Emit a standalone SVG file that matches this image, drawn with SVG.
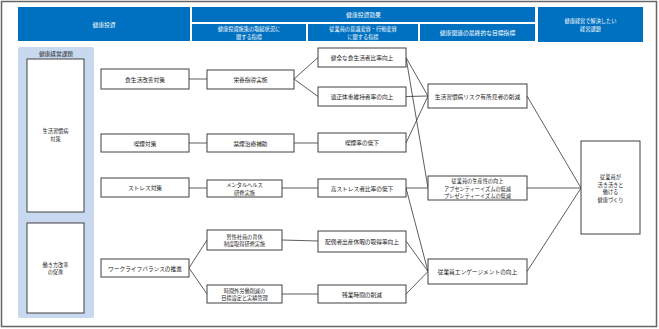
<svg xmlns="http://www.w3.org/2000/svg" width="659" height="329" viewBox="0 0 659 329">
<style>
text{font-family:"Noto Sans CJK JP","Noto Sans",sans-serif;font-size:5.7px;fill:#222;text-anchor:middle;dominant-baseline:central}
text.s{font-size:5.2px}
.h rect{fill:#0070C0}
.h text{fill:#fff;font-size:5.8px}
.h text.s{font-size:5.2px}
.n rect{fill:#fff;stroke:#404040;stroke-width:1}
#connectors line{stroke:#333;stroke-width:0.8}
</style>
<rect x="1.5" y="1.5" width="655" height="325" fill="#fff" stroke="#666" stroke-width="1.5"/>
<g class="h" id="hdr-invest"><rect x="18" y="7" width="172" height="34"/><text x="104" y="24">健康投資</text></g>
<g class="h" id="hdr-effect"><rect x="192" y="7" width="343" height="15"/><text x="363.5" y="14.5">健康投資効果</text></g>
<g class="h" id="hdr-c2"><rect x="192" y="24" width="114" height="17"/><text class="s" x="249" y="28.8">健康投資施策の取組状況に</text><text class="s" x="249" y="36.3">関する指標</text></g>
<g class="h" id="hdr-c3"><rect x="308" y="24" width="110" height="17"/><text class="s" x="363" y="28.8">従業員の意識変容・行動変容</text><text class="s" x="363" y="36.3">に関する指標</text></g>
<g class="h" id="hdr-c4"><rect x="420" y="24" width="115" height="17"/><text x="477.5" y="32.5">健康関連の最終的な目標指標</text></g>
<g class="h" id="hdr-c5"><rect x="538" y="7" width="105" height="35"/><text class="s" x="590.5" y="20.7">健康経営で解決したい</text><text class="s" x="590.5" y="28.2">経営課題</text></g>

<g id="panel"><rect x="18" y="47" width="76" height="271" rx="2" fill="#C8D8EE"/><text x="56" y="53">健康経営課題</text></g>
<g class="n" id="issue1"><rect x="27" y="59" width="57" height="153"/><text class="s" x="55.5" y="130.8">生活習慣病</text><text class="s" x="55.5" y="138.3">対策</text></g>
<g class="n" id="issue2"><rect x="27" y="223" width="57" height="90"/><text class="s" x="55.5" y="264.3">働き方改革</text><text class="s" x="55.5" y="271.8">の促進</text></g>

<g id="connectors">
<line x1="189" y1="79" x2="207" y2="79"/>
<line x1="294" y1="79" x2="318" y2="57.5"/>
<line x1="294" y1="79" x2="318" y2="96.5"/>
<line x1="189" y1="143" x2="207" y2="143"/>
<line x1="294" y1="143" x2="318" y2="143"/>
<line x1="189" y1="188" x2="207" y2="188"/>
<line x1="282" y1="188" x2="318" y2="188"/>
<line x1="189" y1="268" x2="207" y2="240"/>
<line x1="189" y1="268" x2="207" y2="294"/>
<line x1="282" y1="240" x2="318" y2="241"/>
<line x1="282" y1="294" x2="318" y2="294"/>
<line x1="406" y1="57.5" x2="428" y2="96"/>
<line x1="406" y1="57.5" x2="428" y2="188"/>
<line x1="406" y1="96.5" x2="428" y2="96"/>
<line x1="406" y1="143" x2="428" y2="96"/>
<line x1="406" y1="188" x2="428" y2="188"/>
<line x1="406" y1="188" x2="428" y2="271.5"/>
<line x1="406" y1="241" x2="428" y2="271.5"/>
<line x1="406" y1="294" x2="428" y2="271.5"/>
<line x1="527" y1="96" x2="581" y2="188"/>
<line x1="527" y1="188" x2="581" y2="188"/>
<line x1="527" y1="271.5" x2="581" y2="188"/>
</g>

<g class="n" id="m1"><rect x="101" y="69" width="88" height="20"/><text x="145" y="79">食生活改善対策</text></g>
<g class="n" id="m2"><rect x="101" y="134" width="88" height="18"/><text x="145" y="143">喫煙対策</text></g>
<g class="n" id="m3"><rect x="101" y="178" width="88" height="19"/><text x="145" y="187.5">ストレス対策</text></g>
<g class="n" id="m4"><rect x="101" y="259" width="88" height="18"/><text x="145" y="268">ワークライフバランスの推進</text></g>

<g class="n" id="a1"><rect x="207" y="70" width="87" height="19"/><text x="250.5" y="79.5">栄養指導実施</text></g>
<g class="n" id="a2"><rect x="207" y="134" width="87" height="18"/><text x="250.5" y="143">禁煙治療補助</text></g>
<g class="n" id="a3"><rect x="207" y="180" width="75" height="17"/><text class="s" x="244.5" y="184.8">メンタルヘルス</text><text class="s" x="244.5" y="192.3">研修実施</text></g>
<g class="n" id="a4"><rect x="207" y="230" width="75" height="20"/><text class="s" x="244.5" y="236.3">男性社員の育休</text><text class="s" x="244.5" y="243.8">制度取得研修実施</text></g>
<g class="n" id="a5"><rect x="207" y="285" width="75" height="18"/><text class="s" x="244.5" y="290.3">時間外労働削減の</text><text class="s" x="244.5" y="297.8">目標設定と実績管理</text></g>

<g class="n" id="b1"><rect x="318" y="48" width="88" height="19"/><text x="362" y="57.5">健全な食生活者比率向上</text></g>
<g class="n" id="b2"><rect x="318" y="87" width="88" height="19"/><text x="362" y="96.5">適正体重維持者率の向上</text></g>
<g class="n" id="b3"><rect x="318" y="133" width="88" height="19"/><text x="362" y="142.5">喫煙率の低下</text></g>
<g class="n" id="b4"><rect x="318" y="179" width="88" height="18"/><text x="362" y="188">高ストレス者比率の低下</text></g>
<g class="n" id="b5"><rect x="318" y="231" width="88" height="21"/><text x="362" y="241.5">配偶者出産休暇の取得率向上</text></g>
<g class="n" id="b6"><rect x="318" y="285" width="88" height="18"/><text x="362" y="294">残業時間の削減</text></g>

<g class="n" id="c1"><rect x="428" y="84" width="99" height="24"/><text x="477.5" y="96">生活習慣病リスク有所見者の削減</text></g>
<g class="n" id="c2"><rect x="428" y="176" width="99" height="24"/><text class="s" x="477.5" y="180.5">従業員の生産性の向上</text><text class="s" x="477.5" y="188">アブセンティーイズムの低減</text><text class="s" x="477.5" y="195.5">プレゼンティーイズムの低減</text></g>
<g class="n" id="c3"><rect x="428" y="259" width="99" height="25"/><text x="477.5" y="271.5">従業員エンゲージメントの向上</text></g>

<g class="n" id="goal"><rect x="581" y="141" width="59" height="93"/><text class="s" x="610.5" y="176.75">従業員が</text><text class="s" x="610.5" y="184.25">活き活きと</text><text class="s" x="610.5" y="191.75">働ける</text><text class="s" x="610.5" y="199.25">健康づくり</text></g>
</svg>
